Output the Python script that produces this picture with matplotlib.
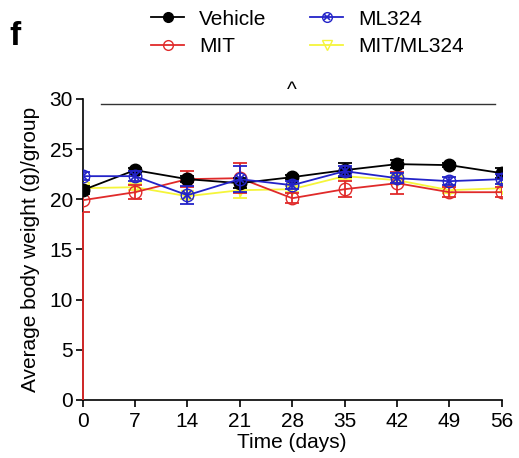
import matplotlib
matplotlib.use("Agg")
import matplotlib.pyplot as plt
from matplotlib.lines import Line2D
from matplotlib.legend_handler import HandlerTuple
import numpy as np

plt.rcParams['font.family'] = ['Liberation Sans', 'DejaVu Sans']

days = [0, 7, 14, 21, 28, 35, 42, 49, 56]
vehicle = [20.9, 22.9, 22.0, 21.6, 22.2, 22.9, 23.5, 23.4, 22.6]
vehicle_err = [0.4, 0.2, 0.3, 0.5, 0.2, 0.7, 0.4, 0.2, 0.5]
mit = [19.9, 20.7, 22.0, 22.1, 20.1, 21.0, 21.6, 20.7, 20.7]
mit_err = [1.2, 0.7, 0.8, 1.5, 0.5, 0.8, 1.1, 0.5, 0.5]
ml324 = [22.3, 22.3, 20.4, 22.0, 21.4, 22.8, 22.1, 21.8, 22.0]
ml324_err = [0.4, 0.5, 0.9, 1.3, 0.4, 0.5, 0.5, 0.4, 0.5]
combo = [21.1, 21.2, 20.3, 20.9, 21.0, 22.3, 21.9, 20.9, 21.1]
combo_err = [0.3, 0.3, 0.3, 0.8, 0.3, 0.3, 0.4, 0.3, 0.4]

labels = ['Vehicle', 'MIT', 'ML324', 'MIT/ML324']
BLACK = '#000000'
RED = '#e02a2a'
BLUE = '#2323c8'
YELLOW = '#f5f53a'

fig = plt.figure(figsize=(5.19, 4.58), dpi=100)
ax = fig.add_axes([0.159, 0.127, 0.808, 0.657])

ms = 9
ax.errorbar(days, combo, yerr=combo_err, color=YELLOW, marker='v', mfc='none',
            ms=ms, lw=1.3, capsize=5, capthick=1.3, elinewidth=1.3, zorder=2)
ax.errorbar(days, mit, yerr=mit_err, color=RED, marker='o', mfc='none',
            ms=ms, lw=1.3, capsize=5, capthick=1.3, elinewidth=1.3, zorder=3)
ax.vlines(days[0], 0, mit[0] - mit_err[0], color=RED, lw=1.3, zorder=5, clip_on=False)
ax.errorbar(days, vehicle, yerr=vehicle_err, color=BLACK, marker='o', mfc=BLACK,
            ms=ms, lw=1.3, capsize=5, capthick=1.3, elinewidth=1.3, zorder=4)
ax.errorbar(days, ml324, yerr=ml324_err, color=BLUE, marker='o', mfc='none',
            ms=ms, lw=1.3, capsize=5, capthick=1.3, elinewidth=1.3, zorder=5)
ax.plot(days, ml324, ls='none', marker='x', color=BLUE, ms=6, mew=1.3, zorder=6)

ax.set_xlim(0, 56)
ax.set_ylim(0, 30)
ax.set_xticks(days)
ax.set_yticks([0, 5, 10, 15, 20, 25, 30])
ax.spines['top'].set_visible(False)
ax.spines['right'].set_visible(False)
ax.spines['left'].set_linewidth(1.2)
ax.spines['bottom'].set_linewidth(1.2)
ax.tick_params(labelsize=15, length=5, width=1.2, direction='out')
ax.tick_params(axis='x', pad=4)
ax.tick_params(axis='y', pad=2)
ax.set_xlabel('Time (days)', fontsize=15, labelpad=1)
ax.set_ylabel('Average body weight (g)/group', fontsize=15, labelpad=7)

ax.plot([2.5, 55.1], [29.5, 29.5], color='#333333', lw=1.0, clip_on=False)
ax.text(28, 29.9, '^', ha='center', va='bottom', fontsize=15)

fig.text(0.018, 0.92, 'f', fontsize=24, fontweight='bold', ha='left', va='center')

h_veh = Line2D([], [], color=BLACK, marker='o', mfc=BLACK, ms=7, lw=1.3)
h_mit = Line2D([], [], color=RED, marker='o', mfc='none', ms=7, lw=1.3)
h_ml_a = Line2D([], [], color=BLUE, marker='o', mfc='none', ms=7, lw=1.3)
h_ml_b = Line2D([], [], color=BLUE, marker='x', ls='none', ms=5, mew=1.2)
h_cmb = Line2D([], [], color=YELLOW, marker='v', mfc='none', ms=7, lw=1.3)
fig.legend([h_veh, h_mit, (h_ml_a, h_ml_b), h_cmb], labels, ncol=2,
           loc='upper left', bbox_to_anchor=(0.255, 1.02), frameon=False,
           fontsize=15, handlelength=1.6, columnspacing=2.1, labelspacing=0.42,
           handletextpad=0.7,
           handler_map={tuple: HandlerTuple(ndivide=1, pad=0)})

fig.savefig('out.png', dpi=100)
